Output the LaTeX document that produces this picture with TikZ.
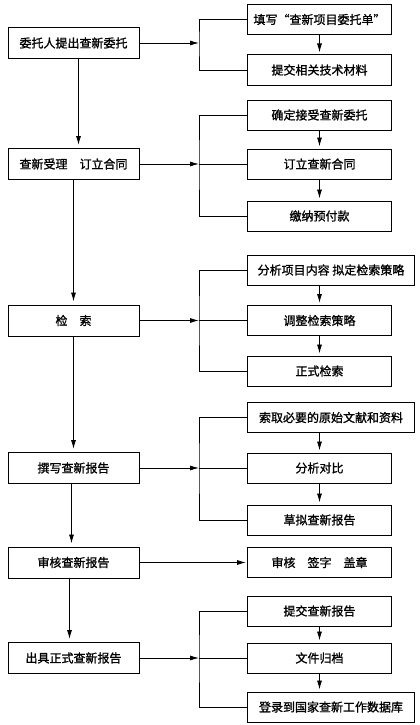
\documentclass[tikz,border=0pt]{standalone}
\usepackage{fontspec}
\setmainfont[FakeBold=1.2]{Noto Sans CJK SC}
\usetikzlibrary{arrows.meta}

\begin{document}
\begin{tikzpicture}[x=1pt,y=-1pt,
    every node/.style={font=\fontsize{12}{14}\selectfont},
    lbox/.style={draw,line width=1pt,minimum width=131pt,minimum height=31pt,inner sep=0pt},
    rbox/.style={draw,line width=1pt,minimum width=144pt,minimum height=30pt,inner sep=0pt,anchor=west},
    wbox/.style={rbox,minimum width=167pt},
    >={Latex[length=9pt,width=5pt]}, line width=0.8pt]
    \useasboundingbox (0,0) rectangle (420,725);

    % main steps
    \node[lbox] (l1) at (73.5,43) {委托人提出查新委托};
    \node[lbox] (l2) at (73.5,164) {查新受理\hspace{1em}订立合同};
    \node[lbox] (l3) at (73.5,320.5) {检\hspace{1em}索};
    \node[lbox] (l4) at (73.5,468) {撰写查新报告};
    \node[lbox] (l5) at (73.5,562.5) {审核查新报告};
    \node[lbox] (l6) at (73.5,658) {出具正式查新报告};

    % details
    \node[rbox] (r1a) at (247,19.5) {填写“查新项目委托单”};
    \node[rbox] (r1b) at (247,70) {提交相关技术材料};
    \node[rbox] (r2a) at (247,115) {确定接受查新委托};
    \node[rbox] (r2b) at (247,164) {订立查新合同};
    \node[rbox] (r2c) at (247,216) {缴纳预付款};
    \node[wbox] (r3a) at (247,270) {分析项目内容 拟定检索策略};
    \node[rbox] (r3b) at (247,320.5) {调整检索策略};
    \node[rbox] (r3c) at (247,371) {正式检索};
    \node[wbox] (r4a) at (247,417.5) {索取必要的原始文献和资料};
    \node[rbox] (r4b) at (247,468) {分析对比};
    \node[rbox] (r4c) at (247,520) {草拟查新报告};
    \node[rbox] (r5) at (247,562.5) {审核\hspace{1em}签字\hspace{1em}盖章};
    \node[rbox] (r6a) at (247,611) {提交查新报告};
    \node[rbox] (r6b) at (247,658) {文件归档};
    \node[wbox] (r6c) at (247,707) {登录到国家查新工作数据库};

    % brackets
    \coordinate (k1) at (199,43);
    \draw (r1a.west) -| (k1) |- (r1b.west);
    \foreach \g in {2,3,4,6} {
        \coordinate (k\g) at (r\g b.west -| k1);
        \draw (r\g a.west) -| (k\g) |- (r\g c.west);
        \draw (k\g) -- (r\g b.west);
    }

    % arrows to the details
    \foreach \g in {1,2,3,4,6}
        \draw[->] (l\g.east) -- (k\g);
    \draw[->,shorten >=1pt] (l5.east) -- (r5.west);

    % main flow
    \draw[->,shorten >=3pt] ([xshift=5pt]l1.south) -- ([xshift=5pt]l2.north);
    \foreach \u / \v / \s in {l2/l3/0pt,l3/l4/0pt,l4/l5/-2pt,l5/l6/-4pt}
        \draw[->,shorten >=3pt] ([xshift=\s]\u.south) -- ([xshift=\s]\v.north);

    % detail flow
    \foreach \u / \v in {r1a/r1b,r2a/r2b,r2b/r2c,r3b/r3c,r4b/r4c,r6a/r6b}
        \draw[->,shorten >=2pt] (\u.south) -- (\v.north);
    \foreach \u / \v in {r3a/r3b,r4a/r4b}
        \draw[->,shorten >=2pt] (\v.north |- \u.south) -- (\v.north);
    \draw[->,shorten >=2pt] (r6b.south) -- (r6b.south |- r6c.north);
\end{tikzpicture}
\end{document}
